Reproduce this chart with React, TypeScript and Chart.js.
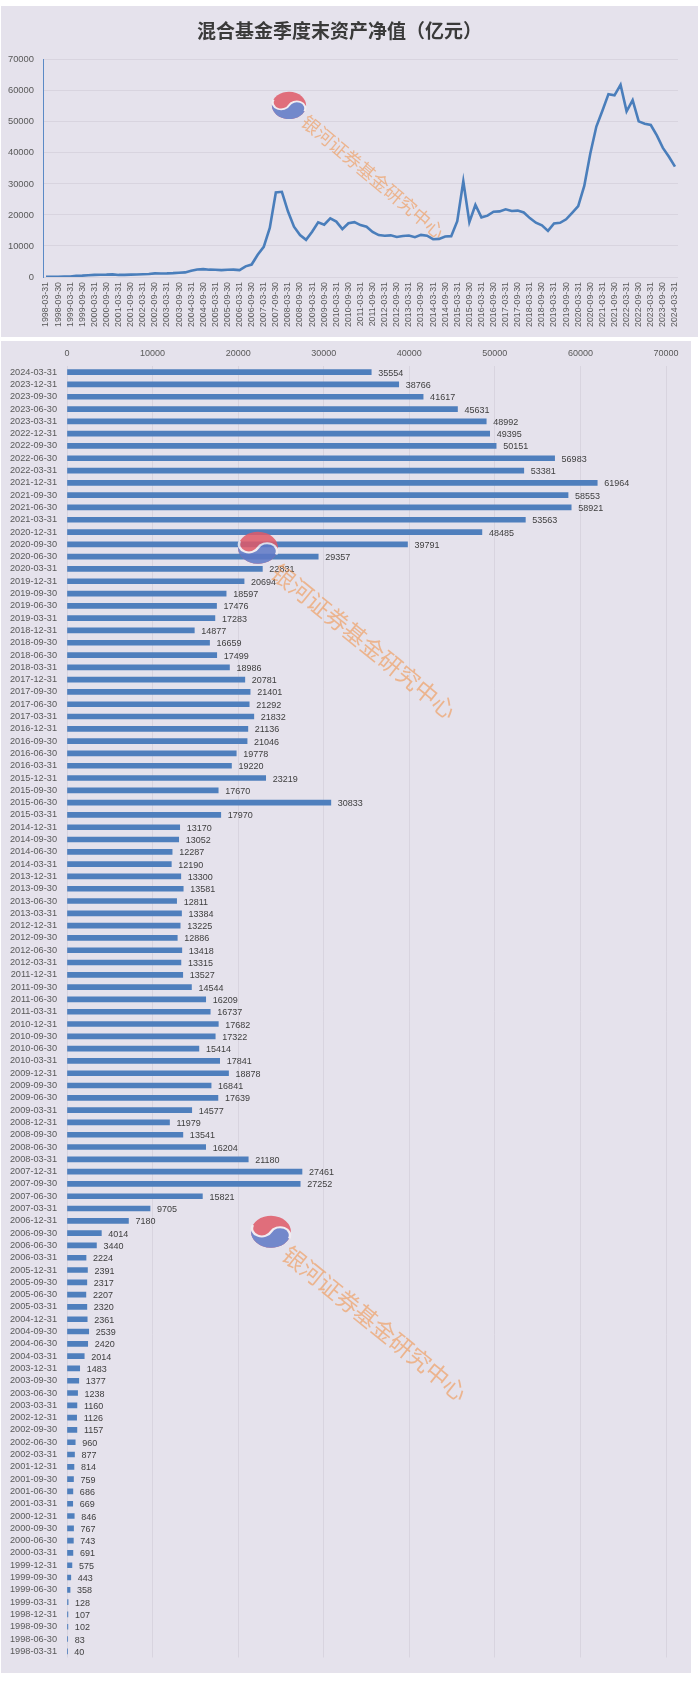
import React, { useEffect, useRef } from 'react';
import { Chart, registerables } from 'chart.js';

Chart.register(...registerables);

// ---------- data ----------
const YEARS = [1998, 1999, 2000, 2001, 2002, 2003, 2004, 2005, 2006, 2007, 2008, 2009, 2010, 2011, 2012, 2013, 2014, 2015, 2016, 2017, 2018, 2019, 2020, 2021, 2022, 2023, 2024];
const QUARTER_ENDS = ['03-31', '06-30', '09-30', '12-31'];
const quarterLabels: string[] = YEARS.flatMap((y) => QUARTER_ENDS.map((q) => `${y}-${q}`)).slice(0, 105);

// 混合基金季度末资产净值（亿元）, chronological from 1998-03-31 to 2024-03-31
const navValues = [
  40, 83, 102, 107,
  128, 358, 443, 575,
  691, 743, 767, 846,
  669, 686, 759, 814,
  877, 960, 1157, 1126,
  1160, 1238, 1377, 1483,
  2014, 2420, 2539, 2361,
  2320, 2207, 2317, 2391,
  2224, 3440, 4014, 7180,
  9705, 15821, 27252, 27461,
  21180, 16204, 13541, 11979,
  14577, 17639, 16841, 18878,
  17841, 15414, 17322, 17682,
  16737, 16209, 14544, 13527,
  13315, 13418, 12886, 13225,
  13384, 12811, 13581, 13300,
  12190, 12287, 13052, 13170,
  17970, 30833, 17670, 23219,
  19220, 19778, 21046, 21136,
  21832, 21292, 21401, 20781,
  18986, 17499, 16659, 14877,
  17283, 17476, 18597, 20694,
  22831, 29357, 39791, 48485,
  53563, 58921, 58553, 61964,
  53381, 56983, 50151, 49395,
  48992, 45631, 41617, 38766,
  35554,
];

const VALUE_MIN = 0;
const VALUE_MAX = 70000;
const VALUE_STEP = 10000;

const TITLE = '混合基金季度末资产净值（亿元）';
const WATERMARK_TEXT = '银河证券基金研究中心';

// ---------- style ----------
const PANEL_BG = '#e5e2ec';
const LINE_COLOR = '#4a7ebb';
const BAR_COLOR = '#4f7fbd';
const GRID_COLOR = '#d8d4df';
const TICK_COLOR = '#595959';
const LABEL_COLOR = '#404040';
const NUM_FONT = "'Liberation Sans', Arial, sans-serif";
const CJK_FONT = "'Noto Sans CJK SC', 'Noto Sans', sans-serif";

const plainNumber = (v: any) => String(v);

const valueLabelPlugin = {
  id: 'valueLabels',
  afterDatasetsDraw(chart: any) {
    const ctx = chart.ctx;
    const meta = chart.getDatasetMeta(0);
    const data = chart.data.datasets[0].data as number[];
    ctx.save();
    ctx.font = `9px ${NUM_FONT}`;
    ctx.fillStyle = LABEL_COLOR;
    ctx.textAlign = 'left';
    ctx.textBaseline = 'middle';
    meta.data.forEach((el: any, i: number) => {
      ctx.fillText(String(data[i]), el.x + 7, el.y + 1);
    });
    ctx.restore();
  },
};

function Logo({ x, y, w }: { x: number; y: number; w: number }) {
  const h = w * 0.8;
  return (
    <svg
      width={w}
      height={h}
      viewBox="-20 -16 40 32"
      style={{ position: 'absolute', left: x - w / 2, top: y - h / 2, opacity: 0.85, pointerEvents: 'none' }}
    >
      <g transform="scale(1,0.8) rotate(25)">
        <circle cx="0" cy="0" r="19" fill="#e05a68" />
        <path d="M -19 0 A 19 19 0 0 0 19 0 A 9.5 9.5 0 0 0 0 0 A 9.5 9.5 0 0 1 -19 0 Z" fill="#5f78c6" />
        <path d="M -19 0 A 9.5 9.5 0 0 0 0 0 A 9.5 9.5 0 0 1 19 0" fill="none" stroke="#f3eef3" strokeWidth="2.4" />
      </g>
    </svg>
  );
}

function Watermark({ lx, ly, lw, tx, ty, size, angle }: { lx: number; ly: number; lw: number; tx: number; ty: number; size: number; angle: number }) {
  return (
    <>
      <Logo x={lx} y={ly} w={lw} />
      <div
        style={{
          position: 'absolute',
          left: tx,
          top: ty - size / 2,
          height: size,
          lineHeight: `${size}px`,
          fontSize: size,
          fontFamily: CJK_FONT,
          color: 'rgba(240, 150, 80, 0.6)',
          whiteSpace: 'nowrap',
          transformOrigin: '0 50%',
          transform: `rotate(${angle}deg)`,
          pointerEvents: 'none',
        }}
      >
        {WATERMARK_TEXT}
      </div>
    </>
  );
}

export default function App() {
  const lineRef = useRef<HTMLCanvasElement | null>(null);
  const barRef = useRef<HTMLCanvasElement | null>(null);

  useEffect(() => {
    const lineChart = new Chart(lineRef.current as HTMLCanvasElement, {
      type: 'line',
      data: {
        labels: quarterLabels,
        datasets: [
          {
            data: navValues,
            borderColor: LINE_COLOR,
            borderWidth: 2.6,
            pointRadius: 0,
            tension: 0,
            fill: false,
          },
        ],
      },
      options: {
        responsive: false,
        animation: false,
        devicePixelRatio: 1,
        layout: { padding: { left: 0, right: 20, top: 0, bottom: 0 } },
        plugins: {
          legend: { display: false },
          tooltip: { enabled: false },
          title: {
            display: true,
            text: TITLE,
            color: '#3a3a3a',
            font: { family: CJK_FONT, size: 19, weight: 'bold' },
            padding: { top: 13, bottom: 18 },
          },
        },
        scales: {
          x: {
            offset: true,
            grid: { display: false, drawTicks: false },
            border: { display: false },
            ticks: {
              autoSkip: false,
              minRotation: 90,
              maxRotation: 90,
              padding: 5,
              color: TICK_COLOR,
              font: { family: NUM_FONT, size: 8.8 },
              callback: (_v: any, i: number) => (i % 2 === 0 ? quarterLabels[i] : ''),
            },
            afterFit: (s: any) => {
              s.height = 60;
            },
          },
          y: {
            min: VALUE_MIN,
            max: VALUE_MAX,
            ticks: { stepSize: VALUE_STEP, color: TICK_COLOR, font: { family: NUM_FONT, size: 9.4 }, padding: 9, callback: plainNumber },
            grid: { color: GRID_COLOR, drawTicks: false },
            border: { display: true, color: '#5b8ac6', width: 1 },
            afterFit: (s: any) => {
              s.width = 42;
            },
          },
        },
      } as any,
    });

    const barLabels = [...quarterLabels].reverse();
    const barValues = [...navValues].reverse();

    const barChart = new Chart(barRef.current as HTMLCanvasElement, {
      type: 'bar',
      data: {
        labels: barLabels,
        datasets: [
          {
            data: barValues,
            backgroundColor: BAR_COLOR,
            barThickness: 5,
          },
        ],
      },
      options: {
        indexAxis: 'y',
        responsive: false,
        animation: false,
        devicePixelRatio: 1,
        layout: { padding: { left: 0, right: 25, top: 0, bottom: 14 } },
        plugins: {
          legend: { display: false },
          tooltip: { enabled: false },
        },
        scales: {
          x: {
            position: 'top',
            min: VALUE_MIN,
            max: VALUE_MAX,
            ticks: { stepSize: VALUE_STEP, color: TICK_COLOR, font: { family: NUM_FONT, size: 9 }, padding: 7, callback: plainNumber },
            grid: { color: GRID_COLOR, drawTicks: false },
            border: { display: false },
            afterFit: (s: any) => {
              s.height = 25;
            },
          },
          y: {
            grid: { display: false, drawTicks: false },
            border: { display: false },
            ticks: { autoSkip: false, color: TICK_COLOR, font: { family: NUM_FONT, size: 9.2 }, padding: 10 },
            afterFit: (s: any) => {
              s.width = 66;
            },
          },
        },
      } as any,
      plugins: [valueLabelPlugin],
    });

    return () => {
      lineChart.destroy();
      barChart.destroy();
    };
  }, []);

  return (
    <div style={{ position: 'absolute', left: 0, top: 0, width: 700, height: 1681, background: '#ffffff', overflow: 'hidden' }}>
      <div style={{ position: 'absolute', left: 1, top: 6, width: 697, height: 331, background: PANEL_BG }}>
        <canvas ref={lineRef} width={697} height={331} style={{ display: 'block' }} />
      </div>
      <div style={{ position: 'absolute', left: 1, top: 341, width: 690, height: 1332, background: PANEL_BG }}>
        <canvas ref={barRef} width={690} height={1332} style={{ display: 'block' }} />
      </div>
      <Watermark lx={289} ly={105} lw={36} tx={305} ty={118} size={18} angle={40} />
      <Watermark lx={258} ly={548} lw={42} tx={275} ty={568} size={23} angle={39} />
      <Watermark lx={271} ly={1232} lw={42} tx={286} ty={1250} size={23} angle={39} />
    </div>
  );
}
